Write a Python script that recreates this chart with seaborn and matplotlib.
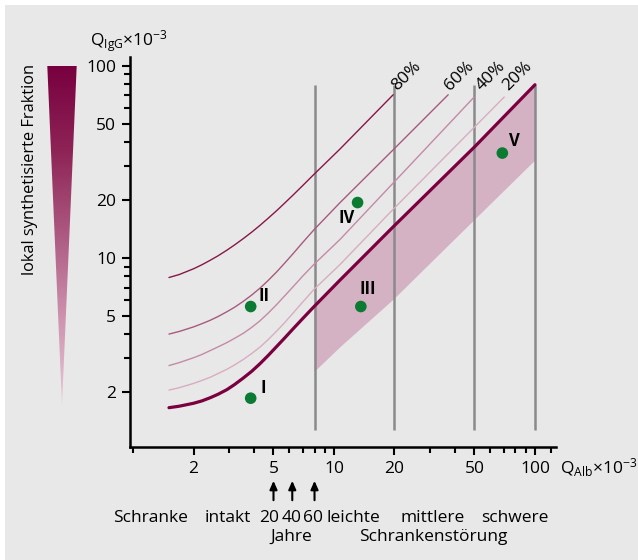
import numpy as np
import pandas as pd
import matplotlib
matplotlib.use("Agg")
import matplotlib.pyplot as plt
from matplotlib.patches import Rectangle, Polygon
from matplotlib.colors import LinearSegmentedColormap
from matplotlib.ticker import FixedLocator, NullFormatter
import seaborn as sns

# Reiber diagram, values (Q x 10^-3)
alb_low = [1.51, 1.7, 2.0, 2.2, 2.42, 2.65, 2.93, 3.2, 3.54, 3.9, 4.28, 4.7,
           5.19, 5.7, 6.27, 7.0, 7.95, 10.7]

alb_lim = alb_low + [19.7, 50.3, 100]
igg_lim = [1.66, 1.69, 1.75, 1.80, 1.87, 1.95, 2.06, 2.19, 2.37, 2.57, 2.81,
           3.10, 3.46, 3.84, 4.28, 4.84, 5.57, 7.65, 14.5, 38.0, 79.6]

alb_80 = alb_low + [19.7]
igg_80 = [7.9, 8.19, 8.77, 9.2, 9.71, 10.25, 10.96, 11.67, 12.6, 13.62, 14.75,
          16.06, 17.62, 19.33, 21.27, 23.82, 27.2, 36.8, 70.6]

alb_60 = alb_low + [19.7, 37.0]
igg_60 = [4.01, 4.14, 4.37, 4.54, 4.73, 4.95, 5.24, 5.53, 5.94, 6.41, 6.95,
          7.62, 8.46, 9.42, 10.54, 12.05, 14.0, 19.35, 36.5, 70.6]

alb_40 = alb_low + [19.7, 49.7]
igg_40 = [2.75, 2.85, 3.02, 3.14, 3.29, 3.44, 3.62, 3.81, 4.05, 4.35, 4.70,
          5.15, 5.72, 6.36, 7.09, 8.05, 9.25, 12.45, 24.5, 68.5]

alb_20 = alb_low + [19.7, 70.3]
igg_20 = [2.05, 2.11, 2.22, 2.30, 2.39, 2.50, 2.63, 2.77, 2.96, 3.18, 3.43,
          3.75, 4.16, 4.62, 5.17, 5.90, 6.85, 9.22, 17.9, 68.7]

band_alb = [7.95, 10.7, 19.7, 50.3, 100]
band_low = [2.56, 3.45, 6.1, 16.0, 32.4]
band_high = [5.57, 7.65, 14.5, 38.0, 79.6]

barrier_alb = [8, 20, 50, 100]

point_names = ["I", "II", "III", "IV", "V"]
point_alb = [3.85, 3.85, 13.6, 13.1, 68.8]
point_igg = [1.86, 5.58, 5.58, 19.4, 35.1]
name_alb = [4.43, 4.48, 14.8, 11.5, 79.1]
name_igg = [2.10, 6.34, 6.90, 16.2, 40.4]

pct_labels = ["80%", "60%", "40%", "20%"]
pct_alb = [20.5, 37.8, 54.3, 73.7]
pct_igg = [73.5, 73.5, 73.5, 73.5]

ticks = [2, 5, 10, 20, 50, 100]
age_alb = [5, 6.2, 8]

W, H = 638, 560

sns.set_style("ticks", {"text.color": "black", "xtick.color": "black",
                        "ytick.color": "black", "axes.edgecolor": "black"})
plt.rcParams["font.family"] = ["Open Sans", "DejaVu Sans"]
plt.rcParams["text.color"] = "black"
plt.rcParams["mathtext.fontset"] = "custom"
plt.rcParams["mathtext.rm"] = "Open Sans"
plt.rcParams["mathtext.it"] = "Open Sans:italic"
plt.rcParams["mathtext.bf"] = "Open Sans:bold"


def fx(px):
    return px / W


def fy(py):
    return 1 - py / H


fig = plt.figure(figsize=(W / 100, H / 100), dpi=100, facecolor="white")
fig.add_artist(Rectangle((fx(5), 0), 1, fy(5), transform=fig.transFigure,
                         facecolor="#e8e8e8", edgecolor="none", zorder=-10))

ax = fig.add_axes([fx(130), fy(446.7), fx(555.7) - fx(130), fy(57) - fy(446.7)])
ax.patch.set_alpha(0)
ax.set_xscale("log")
ax.set_yscale("log")
ax.set_xlim(0.966, 126.8)
ax.set_ylim(1.04, 111)

# Schrankenstörung band
ax.fill_between(band_alb, band_low, band_high, color="#d4b2c3", lw=0, zorder=1)
ax.vlines(barrier_alb, 1.27, 79.6, color="#8a8a8a", lw=1.8, zorder=2)

curves = [
    (alb_80, igg_80, "#861848", 1.0),
    (alb_60, igg_60, "#a85a7e", 1.0),
    (alb_40, igg_40, "#c48aa4", 1.0),
    (alb_20, igg_20, "#d8adc0", 1.0),
    (alb_lim, igg_lim, "#7a0040", 2.3),
]
for xs, ys, col, lw in curves:
    sns.lineplot(x=xs, y=ys, color=col, lw=lw, sort=False, estimator=None,
                 ax=ax, zorder=3)

sns.scatterplot(x=point_alb, y=point_igg, color="#0b7a32", s=70,
                edgecolor="none", ax=ax, zorder=5)
for n, xa, ya in zip(point_names, name_alb, name_igg):
    ax.text(xa, ya, n, fontsize=12, fontweight="bold", ha="center",
            va="center", color="black", zorder=6)

for lab, xa, ya in zip(pct_labels, pct_alb, pct_igg):
    ax.text(xa, ya, lab, fontsize=12.5, rotation=45, rotation_mode="anchor",
            ha="left", va="baseline", color="black")

ax.xaxis.set_major_locator(FixedLocator(ticks))
ax.yaxis.set_major_locator(FixedLocator(ticks))
ax.set_xticklabels([str(t) for t in ticks])
ax.set_yticklabels([str(t) for t in ticks])
minor = [m * d for d in [1, 10] for m in range(2, 10)]
ax.xaxis.set_minor_locator(FixedLocator([v for v in minor + [1, 120] if v not in ticks]))
ax.yaxis.set_minor_locator(FixedLocator([v for v in minor if v not in ticks]))
ax.xaxis.set_minor_formatter(NullFormatter())
ax.yaxis.set_minor_formatter(NullFormatter())
ax.tick_params(which="major", length=6, width=1.5, labelsize=12.5, pad=4,
               color="black", labelcolor="black")
ax.tick_params(which="minor", length=4.5, width=1.5, color="black")
for s in ["top", "right"]:
    ax.spines[s].set_visible(False)
for s in ["left", "bottom"]:
    ax.spines[s].set_linewidth(1.8)
    ax.spines[s].set_color("black")
ax.set_xlabel("")
ax.set_ylabel("")

fig.text(fx(129), fy(41), r"Q$_{\mathrm{IgG}}$×10$^{-3}$", fontsize=12.5,
         ha="center", va="center")
fig.text(fx(560), fy(468), r"Q$_{\mathrm{Alb}}$×10$^{-3}$", fontsize=12.5,
         ha="left", va="center")
fig.text(fx(30), fy(169.5), "lokal synthetisierte Fraktion", fontsize=11.8,
         rotation=90, ha="center", va="center")

# gradient wedge
wax = fig.add_axes([fx(47.3), fy(405), fx(76.7) - fx(47.3), fy(66) - fy(405)])
cmap = LinearSegmentedColormap.from_list(
    "wedge", ["#780040", "#8e2456", "#ad5a82", "#cf94b0", "#e8c8d6"])
im = wax.imshow(np.linspace(0, 1, 256)[:, None], aspect="auto", cmap=cmap,
                extent=[0, 1, 0, 1])
im.set_clip_path(Polygon([(0, 1), (1, 1), (0.5, 0)], closed=True,
                         transform=wax.transAxes))
wax.axis("off")

# arrows and barrier text
for xa in age_alb:
    ax.annotate("", xy=(xa, fy(478)), xytext=(xa, fy(503)),
                xycoords=("data", "figure fraction"),
                textcoords=("data", "figure fraction"),
                arrowprops=dict(arrowstyle="-|>,head_width=0.22,head_length=0.5",
                                color="black", lw=1.5), annotation_clip=False)

row1 = [("Schranke", 150), ("intakt", 227.5), ("20", 269), ("40", 291.7),
        ("60", 313), ("leichte", 353), ("mittlere", 433), ("schwere", 514.5)]
row2 = [("Jahre", 291.7), ("Schrankenstörung", 433.3)]
for t, px in row1:
    fig.text(fx(px), fy(518), t, fontsize=12.5, ha="center", va="center")
for t, px in row2:
    fig.text(fx(px), fy(537), t, fontsize=12.5, ha="center", va="center")

fig.savefig("out.png", dpi=100, facecolor="white")
